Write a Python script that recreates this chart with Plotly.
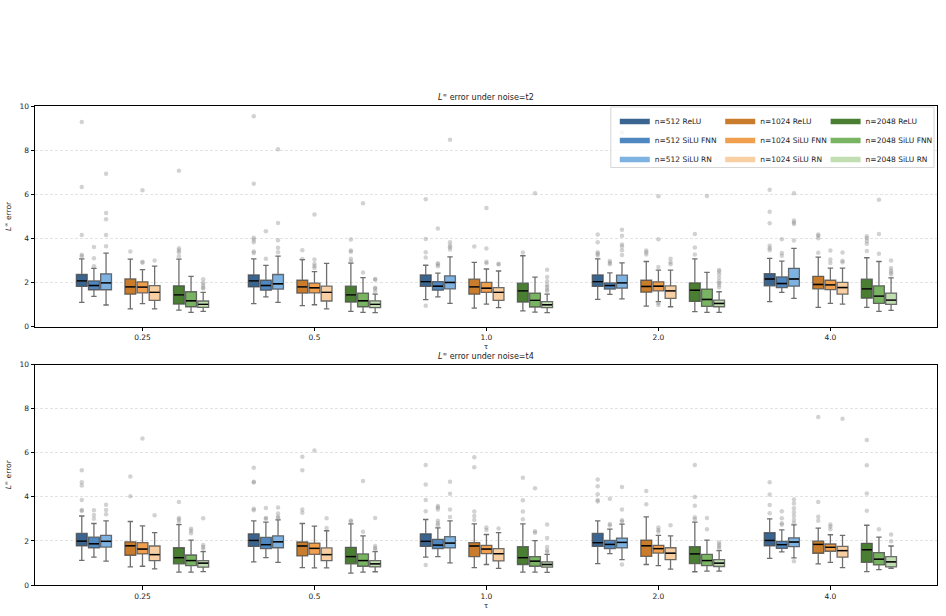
import plotly.graph_objects as go

TAUS = ["0.25", "0.5", "1.0", "2.0", "4.0"]
SERIES = ["n=512 ReLU", "n=512 SiLU FNN", "n=512 SiLU RN",
          "n=1024 ReLU", "n=1024 SiLU FNN", "n=1024 SiLU RN",
          "n=2048 ReLU", "n=2048 SiLU FNN", "n=2048 SiLU RN"]
COLORS = ["#3b6591", "#4f87c1", "#7db2e1",
          "#c97c2c", "#ef9f4e", "#f8cfa2",
          "#4a7f33", "#79b462", "#c0deb1"]
SLOTS = [0, 1, 2, 4, 5, 6, 8, 9, 10]

# ---- noise = t2 (top panel); rows = series, cols = tau ----
T2_Q1 = [[1.83, 1.81, 1.83, 1.83, 1.86], [1.68, 1.66, 1.66, 1.71, 1.78], [1.68, 1.71, 1.72, 1.75, 1.84],
         [1.48, 1.53, 1.48, 1.57, 1.72], [1.54, 1.54, 1.56, 1.63, 1.69], [1.20, 1.17, 1.20, 1.29, 1.48],
         [1.03, 1.12, 1.12, 1.15, 1.30], [0.91, 0.91, 0.90, 0.93, 1.06], [0.88, 0.87, 0.87, 0.91, 1.02]]
T2_MED = [[2.08, 2.08, 2.05, 2.05, 2.17], [1.87, 1.87, 1.84, 1.87, 1.96], [1.99, 1.95, 2.01, 1.99, 2.17],
          [1.81, 1.81, 1.81, 1.83, 1.92], [1.80, 1.77, 1.75, 1.84, 1.90], [1.56, 1.56, 1.56, 1.63, 1.78],
          [1.45, 1.45, 1.63, 1.66, 1.72], [1.18, 1.18, 1.20, 1.24, 1.39], [1.02, 1.02, 1.00, 1.06, 1.21]]
T2_Q3 = [[2.37, 2.35, 2.35, 2.35, 2.41], [2.08, 2.11, 2.05, 1.99, 2.26], [2.40, 2.37, 2.31, 2.34, 2.65],
         [2.17, 2.11, 2.16, 2.11, 2.29], [2.04, 1.98, 2.01, 2.04, 2.11], [1.87, 1.84, 1.78, 1.86, 2.01],
         [1.86, 1.84, 1.98, 1.99, 2.16], [1.59, 1.53, 1.53, 1.71, 1.86], [1.17, 1.18, 1.14, 1.21, 1.53]]
T2_LO = [[1.11, 1.05, 1.23, 1.24, 1.14], [1.38, 1.36, 1.36, 1.47, 1.56], [0.99, 1.11, 1.06, 1.27, 1.29],
         [0.81, 0.96, 0.85, 0.94, 0.88], [1.05, 1.00, 1.03, 1.14, 1.06], [0.81, 0.81, 0.87, 0.91, 1.03],
         [0.76, 0.70, 0.72, 0.69, 0.88], [0.66, 0.66, 0.67, 0.66, 0.70], [0.70, 0.64, 0.64, 0.66, 0.75]]
T2_HI = [[3.08, 3.08, 2.79, 3.08, 3.10], [2.65, 2.78, 2.43, 2.44, 2.98], [3.34, 3.20, 3.17, 2.90, 3.55],
         [3.07, 3.04, 2.92, 2.96, 3.16], [2.59, 2.50, 2.62, 2.57, 2.66], [2.75, 2.87, 2.53, 2.57, 2.66],
         [3.07, 2.89, 3.22, 3.08, 3.13], [2.29, 2.23, 2.25, 2.47, 2.96], [1.56, 1.48, 1.48, 1.59, 2.22]]
T2_OUT = [
    [[9.27, 6.33, 4.16, 3.26, 3.20], [9.54, 6.48, 4.03, 3.94, 3.83, 3.41, 3.34], [5.78, 3.98, 3.38, 3.14, 0.96],
     [4.18, 3.83, 3.38, 3.31, 3.23], [6.21, 5.21, 4.69, 3.67, 3.56, 3.47]],
    [[3.62, 3.11, 2.74], [4.33, 3.08], [4.45, 2.88, 2.82, 2.74], [2.98, 2.90, 2.83], [3.97, 3.34, 3.22]],
    [[6.93, 5.16, 4.87, 4.16, 3.65], [8.04, 4.70, 3.92, 3.58, 3.38], [8.47, 3.83, 3.68, 3.61, 3.50],
     [8.80, 4.40, 4.13, 3.73, 3.64, 3.47, 3.25], [6.05, 4.81, 4.73, 4.66, 3.91]],
    [[3.41], [3.47, 3.07], [3.64], [3.46, 3.38, 3.28], [4.18, 4.12, 4.01, 3.35]],
    [[6.18, 2.95, 2.90], [5.09, 3.05, 2.86, 2.75, 2.66], [5.38, 3.55, 2.95, 2.88], [5.91, 3.97, 2.71, 1.08, 0.99],
     [8.50, 3.46, 3.05, 2.89]],
    [[3.01], [], [2.86, 2.82], [3.08, 2.93, 2.84], [3.37, 2.99, 2.93]],
    [[7.07, 3.56, 3.46, 3.38, 3.20], [3.95, 3.46, 3.40, 3.08, 2.96], [3.37], [4.21, 3.59, 3.28],
     [4.10, 4.01, 3.89, 3.76, 3.43]],
    [[], [5.60, 2.46], [6.05], [5.93], [5.76, 4.21, 3.31]],
    [[2.16, 2.00, 1.90, 1.78, 1.74], [2.17, 2.13, 1.77, 1.72, 1.60], [2.59, 2.26, 2.07, 1.89, 1.80, 1.69, 1.62],
     [2.57, 2.51, 2.38, 2.22, 2.07, 1.99, 1.89, 1.78], [3.01, 2.66, 2.54, 2.46, 2.37]],
]

# ---- noise = t4 (bottom panel) ----
T4_Q1 = [[1.78, 1.75, 1.75, 1.75, 1.78], [1.68, 1.65, 1.65, 1.65, 1.66], [1.72, 1.69, 1.68, 1.68, 1.74],
         [1.35, 1.32, 1.29, 1.30, 1.44], [1.41, 1.39, 1.42, 1.45, 1.53], [1.11, 1.11, 1.09, 1.15, 1.26],
         [0.96, 0.96, 0.93, 0.97, 1.03], [0.88, 0.85, 0.85, 0.88, 0.91], [0.81, 0.82, 0.81, 0.84, 0.82]]
T4_MED = [[1.99, 2.02, 1.98, 1.92, 2.02], [1.87, 1.83, 1.81, 1.84, 1.83], [1.98, 1.96, 1.90, 1.93, 1.95],
          [1.78, 1.77, 1.77, 1.78, 1.84], [1.63, 1.66, 1.63, 1.65, 1.71], [1.38, 1.38, 1.42, 1.44, 1.56],
          [1.24, 1.29, 1.24, 1.41, 1.60], [1.11, 1.11, 1.08, 1.11, 1.17], [0.99, 0.96, 0.93, 0.99, 1.05]]
T4_Q3 = [[2.34, 2.32, 2.32, 2.34, 2.37], [2.17, 2.16, 2.07, 2.02, 1.98], [2.25, 2.23, 2.19, 2.13, 2.14],
         [1.96, 1.95, 1.92, 2.04, 1.99], [1.92, 1.90, 1.80, 1.80, 1.86], [1.77, 1.68, 1.65, 1.69, 1.75],
         [1.69, 1.71, 1.74, 1.74, 1.89], [1.36, 1.41, 1.29, 1.39, 1.47], [1.11, 1.11, 1.05, 1.15, 1.29]]
T4_LO = [[1.12, 1.05, 1.26, 0.97, 1.21], [1.26, 1.24, 1.29, 1.42, 1.50], [1.08, 1.03, 1.00, 1.15, 1.23],
         [0.82, 0.79, 0.79, 0.93, 0.96], [0.85, 0.78, 0.93, 0.88, 1.03], [0.73, 0.78, 0.75, 0.72, 0.79],
         [0.58, 0.54, 0.58, 0.60, 0.61], [0.58, 0.58, 0.58, 0.63, 0.70], [0.61, 0.60, 0.57, 0.63, 0.75]]
T4_HI = [[3.13, 2.91, 2.97, 2.91, 3.00], [2.79, 2.85, 2.59, 2.53, 2.50], [2.91, 2.95, 2.91, 2.76, 2.73],
         [2.88, 2.79, 2.77, 3.09, 2.58], [2.68, 2.67, 2.29, 2.25, 2.28], [2.38, 2.46, 2.38, 2.23, 2.25],
         [2.74, 2.77, 2.77, 2.85, 2.71], [2.04, 2.23, 2.01, 2.04, 2.17], [1.51, 1.51, 1.39, 1.56, 1.77]]
T4_OUT = [
    [[5.20, 4.66, 4.51, 3.85, 3.40, 3.36], [5.32, 4.68, 4.65, 3.46, 3.39], [5.44, 4.56, 3.85, 3.34, 0.91],
     [4.78, 4.48, 4.12, 3.85, 3.79], [4.66, 4.11, 3.63, 3.25]],
    [[3.39, 3.18, 3.00], [3.49, 3.04, 3.01], [3.58, 3.52, 3.43, 2.91, 2.80, 2.71], [3.91, 2.77, 2.70],
     [3.34, 3.03, 2.80, 2.73]],
    [[3.64, 3.40, 3.21], [3.52, 3.24, 3.10, 3.03], [4.68, 4.14, 3.42, 3.09], [4.44, 3.42, 2.94, 2.88, 0.93],
     [3.88, 3.70, 3.48, 3.30, 3.13, 2.95, 2.80, 1.08]],
    [[4.92, 4.02], [5.82, 5.20, 3.42, 3.28], [5.79, 5.34, 3.33, 3.13, 2.95], [4.26, 3.66], [7.62, 3.76, 3.10, 2.91]],
    [[6.64], [6.10], [2.61, 2.49], [2.61, 2.50, 2.41], [2.74, 2.65, 2.53]],
    [[3.16], [3.03, 2.58], [2.56], [2.71], [7.54]],
    [[3.76, 3.04, 2.97, 2.86], [2.92, 2.88], [4.86, 3.84, 3.33, 2.98], [5.44, 3.99, 3.60, 3.07, 2.98],
     [6.58, 5.43, 4.15, 3.37]],
    [[2.55, 2.46, 2.35], [4.72, 2.41], [4.39, 2.44, 2.37], [3.04, 2.53], [2.53]],
    [[3.03, 1.81, 1.72, 1.63], [3.04, 1.77, 1.68, 1.60], [2.74, 2.13, 1.72, 1.56, 1.51], [1.93, 1.84, 1.75, 1.66],
     [2.29, 1.99]],
]

SLOT_W = 0.0706
BOX_W = 0.063
FONT = "DejaVu Sans"
LINE_C = "rgba(70,70,70,0.78)"

fig = go.Figure()

panels = [
    ("x", "y", T2_Q1, T2_MED, T2_Q3, T2_LO, T2_HI, T2_OUT),
    ("x2", "y2", T4_Q1, T4_MED, T4_Q3, T4_LO, T4_HI, T4_OUT),
]

for xa, ya, Q1, MED, Q3, LO, HI, OUT in panels:
    med_x, med_y = [], []
    for s in range(len(SERIES)):
        off = (SLOTS[s] - 5) * SLOT_W
        xs = [i + off for i in range(len(TAUS))]
        fig.add_trace(go.Box(
            x=xs, q1=Q1[s], median=MED[s], q3=Q3[s],
            lowerfence=LO[s], upperfence=HI[s],
            width=BOX_W, whiskerwidth=0.5, boxpoints=False,
            fillcolor=COLORS[s], line=dict(color=LINE_C, width=1.3),
            xaxis=xa, yaxis=ya, showlegend=False, hoverinfo="skip",
        ))
        ox, oy = [], []
        for i in range(len(TAUS)):
            for v in OUT[s][i]:
                ox.append(xs[i])
                oy.append(v)
            med_x += [xs[i] - BOX_W / 2 + 0.002, xs[i] + BOX_W / 2 - 0.002, None]
            med_y += [MED[s][i], MED[s][i], None]
        fig.add_trace(go.Scatter(
            x=ox, y=oy, mode="markers",
            marker=dict(size=4.5, color="rgba(130,130,130,0.36)", line=dict(width=0)),
            xaxis=xa, yaxis=ya, showlegend=False, hoverinfo="skip",
        ))
    fig.add_trace(go.Scatter(
        x=med_x, y=med_y, mode="lines", line=dict(color="black", width=1.4),
        xaxis=xa, yaxis=ya, showlegend=False, hoverinfo="skip",
    ))

# legend entries (three columns)
legend_ids = ["legend", "legend2", "legend3"]
for s in range(len(SERIES)):
    fig.add_trace(go.Scatter(
        x=[None], y=[None], mode="lines", name=SERIES[s],
        line=dict(color=COLORS[s], width=5.5),
        legend=legend_ids[s // 3], showlegend=True,
    ))

PLOT_L, PLOT_R = 31, 938
PAPER_W = PLOT_R - PLOT_L


def px_x(p):
    return (p - PLOT_L) / PAPER_W


def px_y(p):
    return (589 - p) / 483


leg_common = dict(
    yanchor="top", xanchor="left", y=px_y(107), orientation="v",
    bgcolor="rgba(0,0,0,0)", borderwidth=0, tracegroupgap=0,
    font=dict(family=FONT, size=7.5, color="#222"), itemwidth=30,
)
legends = {}
for lid, xp in zip(legend_ids, [614, 720, 826]):
    legends[lid] = dict(leg_common, x=px_x(xp))

axis_common = dict(
    showline=True, linecolor="black", linewidth=1, mirror=True,
    ticks="outside", ticklen=3.5, tickwidth=1, tickcolor="black",
    tickfont=dict(family=FONT, size=7.5, color="#222"), zeroline=False,
)
xaxis_common = dict(
    axis_common, range=[-0.625, 4.62], tickmode="array",
    tickvals=list(range(len(TAUS))), ticktext=TAUS, showgrid=False,
    title=dict(text="τ", font=dict(family=FONT, size=7.5, color="#222"), standoff=2),
)
yaxis_common = dict(
    axis_common, range=[0, 10], dtick=2, showgrid=True,
    gridcolor="#e3e3e3", griddash="3px,2px", gridwidth=0.7,
    title=dict(text="<i>L</i><sup>∞</sup> error", font=dict(family=FONT, size=7.5, color="#222"), standoff=6),
)

TOP_DOM = [px_y(328.7), 1.0]
BOT_DOM = [0.0, px_y(366.7)]

fig.update_layout(
    width=946, height=616,
    margin=dict(l=PLOT_L, r=946 - PLOT_R, t=106, b=27),
    paper_bgcolor="white", plot_bgcolor="white",
    font=dict(family=FONT, size=7.5, color="#222"),
    boxmode="overlay",
    xaxis=dict(xaxis_common, anchor="y"),
    yaxis=dict(yaxis_common, domain=TOP_DOM, anchor="x"),
    xaxis2=dict(xaxis_common, anchor="y2"),
    yaxis2=dict(yaxis_common, domain=BOT_DOM, anchor="x2"),
    **legends,
    shapes=[dict(
        type="rect", xref="paper", yref="paper", layer="above",
        x0=px_x(610), x1=px_x(935), y0=px_y(107), y1=px_y(168),
        fillcolor="rgba(255,255,255,0.8)", line=dict(color="#cccccc", width=0.8),
    )],
    annotations=[
        dict(text="<i>L</i><sup>∞</sup> error under noise=t2", xref="paper", yref="paper",
             x=0.5, y=TOP_DOM[1], yanchor="bottom", showarrow=False, yshift=2,
             font=dict(family=FONT, size=8, color="#222")),
        dict(text="<i>L</i><sup>∞</sup> error under noise=t4", xref="paper", yref="paper",
             x=0.5, y=BOT_DOM[1], yanchor="bottom", showarrow=False, yshift=2,
             font=dict(family=FONT, size=8, color="#222")),
    ],
)

fig.write_html("out.html")
